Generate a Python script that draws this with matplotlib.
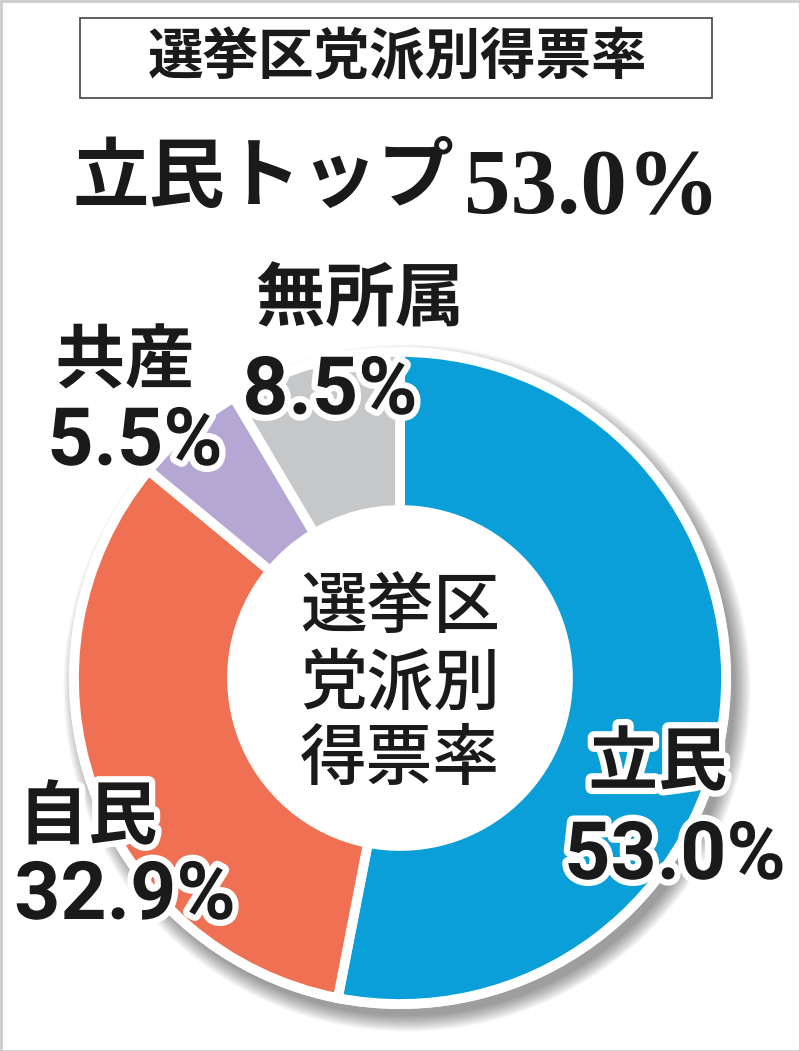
import matplotlib.pyplot as plt
import matplotlib.patheffects as pe
from matplotlib.patches import Circle, Rectangle

# ----------------------------
# data
# ----------------------------
parties = ["立民", "自民", "共産", "無所属"]
shares = [53.0, 32.9, 5.5, 8.5]
share_labels = ["53.0%", "32.9%", "5.5%", "8.5%"]
colors = ["#0a9fd9", "#ef7052", "#b4a7d3", "#c5c7c9"]

title = "選挙区党派別得票率"
headline = "立民トップ"
headline_num = "53.0%"
center_text = "選挙区\n党派別\n得票率"

W, H = 800, 1051
cjk = ["Noto Sans CJK JP", "DejaVu Sans"]
num = ["Roboto", "Noto Sans CJK JP"]
serif = ["Liberation Serif", "Noto Sans CJK JP"]


def Y(y):
    # pixel row (top down) -> data y
    return H - y


fig = plt.figure(figsize=(W / 100, H / 100), dpi=100)
ax = fig.add_axes([0, 0, 1, 1])

cx, cy = 400, Y(678)
R, r_in = 326, 168

# soft drop shadow
for k in range(14):
    ax.add_patch(Circle((cx + 7, cy - 10), R + 2 + k * 1.2, color="#000000",
                        alpha=0.03, lw=0, zorder=1))
ax.add_patch(Circle((cx, cy), R + 5, color="white", lw=0, zorder=2))

wedges, _ = ax.pie(shares, colors=colors, startangle=90, counterclock=False,
                   radius=R, center=(cx, cy),
                   wedgeprops=dict(width=R - r_in, edgecolor="white",
                                   linewidth=7))
for w in wedges:
    w.set_zorder(3)

ax.set_xlim(0, W)
ax.set_ylim(0, H)
ax.set_aspect("equal")
ax.axis("off")

# ----------------------------
# header
# ----------------------------
ax.add_patch(Rectangle((80, Y(98)), 632, 80, fill=False, ec="#444444",
                       lw=1.2, zorder=5))
ax.text(397, Y(58), title, family=cjk, fontsize=40, fontweight="bold",
        ha="center", va="center", color="#1a1a1a", zorder=6)
ax.text(72, Y(178), headline, family=cjk, fontsize=55, fontweight="bold",
        ha="left", va="center", color="#1a1a1a", zorder=6)
ax.text(464, Y(213), headline_num, family=serif, fontsize=67,
        fontweight="bold", ha="left", va="baseline", color="#1a1a1a",
        zorder=6)

# ----------------------------
# labels
# ----------------------------
outline = [pe.withStroke(linewidth=9, foreground="white")]
name_pos = [(658, 764), (88, 818), (125, 362), (360, 300)]
num_pos = [(675, 857), (125, 897), (135, 443), (330, 392)]
for name, lab, (nx, ny), (px, py) in zip(parties, share_labels,
                                          name_pos, num_pos):
    ax.text(nx, Y(ny), name, family=cjk, fontsize=50, fontweight="bold",
            ha="center", va="center", color="#1a1a1a",
            path_effects=outline, zorder=7)
    ax.text(px, Y(py), lab, family=num, fontsize=58, fontweight="bold",
            ha="center", va="center", color="#1a1a1a",
            path_effects=outline, zorder=7)

ax.text(cx, Y(684), center_text, family=cjk, fontsize=48,
        fontweight="medium", ha="center", va="center", color="#1a1a1a",
        linespacing=1.15, zorder=7)

# thin outer frame
ax.add_patch(Rectangle((0.5, 0.5), W - 1, H - 1, fill=False, ec="#cccccc",
                       lw=2, zorder=8))

fig.savefig("out.png", dpi=100)
